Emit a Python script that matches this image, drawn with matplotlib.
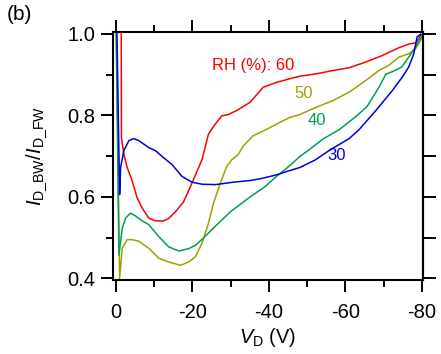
import matplotlib
matplotlib.use('Agg')
from matplotlib import pyplot as plt
from matplotlib.ticker import MultipleLocator
import numpy as np

plt.rcParams['font.family'] = ['Liberation Sans', 'DejaVu Sans']
plt.rcParams['mathtext.fontset'] = 'custom'
plt.rcParams['mathtext.rm'] = 'Liberation Sans'
plt.rcParams['mathtext.it'] = 'Liberation Sans:italic'

# RH = 60 %
vd_60 = [-1.38, -1.43, -2.08, -2.94, -4.23, -5.53, -6.83, -8.57, -10.4, -12.5, -13.8, -15.6,
         -17.7, -19.9, -22.5, -24.2, -26.0, -27.7, -29.4, -31.6, -35.1, -38.5, -42.0, -45.5,
         -48.1, -52.4, -56.7, -61.0, -65.4, -69.7, -74.0, -76.6, -78.4, -79.2, -79.9]
r_60 = [1.0, 0.746, 0.704, 0.672, 0.640, 0.598, 0.573, 0.548, 0.541, 0.541, 0.547, 0.564,
        0.588, 0.634, 0.691, 0.754, 0.779, 0.799, 0.802, 0.812, 0.832, 0.869, 0.881, 0.890,
        0.896, 0.902, 0.910, 0.917, 0.931, 0.947, 0.966, 0.975, 0.978, 0.988, 0.999]

# RH = 50 %
vd_50 = [-0.08, -0.96, -1.64, -2.94, -4.23, -5.97, -8.57, -11.25, -13.84, -16.9, -19.0, -20.8,
         -22.5, -24.2, -25.5, -27.3, -29.0, -30.3, -32.0, -33.3, -35.9, -37.7, -40.3, -42.9,
         -45.5, -48.1, -52.4, -56.7, -61.0, -65.4, -68.8, -71.4, -74.0, -76.6, -78.4, -79.7, -80.1]
r_50 = [1.0, 0.400, 0.474, 0.495, 0.495, 0.491, 0.474, 0.449, 0.440, 0.432, 0.440, 0.453,
        0.486, 0.535, 0.584, 0.634, 0.675, 0.691, 0.704, 0.725, 0.750, 0.758, 0.770, 0.783,
        0.795, 0.802, 0.820, 0.836, 0.857, 0.886, 0.910, 0.923, 0.943, 0.951, 0.964, 0.984, 0.993]

# RH = 40 %
vd_40 = [-0.08, -0.78, -1.64, -2.52, -3.82, -5.12, -6.83, -8.57, -11.25, -13.84, -16.44, -19.04,
         -20.78, -22.9, -26.0, -29.9, -35.1, -39.0, -41.6, -45.5, -48.1, -50.6, -54.0, -58.4,
         -62.9, -65.7, -68.8, -70.6, -73.2, -74.8, -76.6, -78.4, -80.0]
r_40 = [1.0, 0.457, 0.523, 0.548, 0.560, 0.553, 0.541, 0.532, 0.502, 0.477, 0.467, 0.473,
        0.481, 0.499, 0.528, 0.563, 0.600, 0.625, 0.647, 0.677, 0.699, 0.716, 0.741, 0.765,
        0.798, 0.822, 0.869, 0.901, 0.911, 0.919, 0.943, 0.968, 0.995]

# RH = 30 %
vd_30 = [-0.26, -0.96, -1.22, -2.08, -3.38, -4.68, -5.97, -8.57, -10.4, -12.1, -14.7, -17.3,
         -19.9, -22.5, -26.0, -30.7, -35.1, -38.5, -42.0, -44.6, -48.1, -52.2, -55.8, -61.0,
         -63.6, -68.0, -72.3, -74.9, -76.6, -77.9, -78.8, -79.7]
r_30 = [1.0, 0.606, 0.672, 0.714, 0.738, 0.743, 0.738, 0.721, 0.713, 0.699, 0.679, 0.650,
        0.636, 0.631, 0.630, 0.636, 0.640, 0.646, 0.654, 0.662, 0.672, 0.691, 0.714, 0.743,
        0.765, 0.812, 0.861, 0.894, 0.919, 0.951, 0.993, 0.999]

series = [(vd_60, r_60, '#ff0000'), (vd_50, r_50, '#a0a000'),
          (vd_40, r_40, '#00a050'), (vd_30, r_30, '#0000dd')]

fig = plt.figure(figsize=(4.41, 3.54), dpi=100)
ax = fig.add_axes([0.256, 0.208, 0.703, 0.702])

for vd, r, c in series:
    ax.plot(vd, r, color=c, lw=1.1)

ax.set_xlim(0.8, -80.3)
ax.set_ylim(0.395, 1.005)

ax.xaxis.set_minor_locator(MultipleLocator(10))
ax.yaxis.set_major_locator(MultipleLocator(0.2))
ax.yaxis.set_minor_locator(MultipleLocator(0.1))
ax.set_xticks([0, -20, -40, -60, -80])
ax.set_xticklabels(['0', '-20', '-40', '-60', '-80'])

ax.tick_params(which='major', direction='out', length=8.5, width=1.4, labelsize=14.5,
               top=True, right=False)
ax.tick_params(axis='x', which='major', pad=7.5)
ax.tick_params(axis='y', which='major', pad=4)
ax.tick_params(which='minor', direction='out', length=4.8, width=1.4, top=True, right=False)
for s in ax.spines.values():
    s.set_linewidth(1.5)

sec = ax.secondary_yaxis('right')
sec.set_yticks([0.4, 0.5, 0.6, 0.7, 0.8, 0.9, 1.0])
sec.set_yticklabels([])
sec.tick_params(direction='out', length=9, width=1.4)
sec.spines['right'].set_linewidth(1.5)

ax.set_xlabel(r'$V_{\mathrm{D}}$ (V)', fontsize=14.5, labelpad=3)
ax.set_ylabel(r'$I_{\mathrm{D\_BW}}/I_{\mathrm{D\_FW}}$', fontsize=14.5)
ax.yaxis.set_label_coords(-0.205, 0.5)

ax.text(-25.1, 0.923, 'RH (%): 60', color='#ff0000', fontsize=12, ha='left', va='center')
ax.text(-46.8, 0.854, '50', color='#a0a000', fontsize=12, ha='left', va='center')
ax.text(-50.1, 0.788, '40', color='#00a050', fontsize=12, ha='left', va='center')
ax.text(-55.3, 0.701, '30', color='#0000dd', fontsize=12, ha='left', va='center')

fig.text(0.016, 0.958, '(b)', fontsize=15, ha='left', va='center')

fig.savefig('out.png', dpi=100)
